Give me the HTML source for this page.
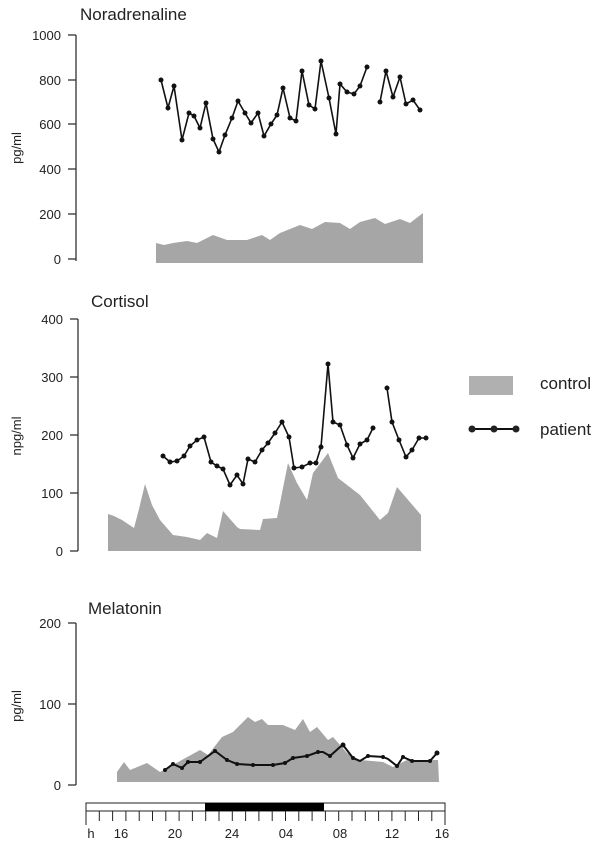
<!DOCTYPE html>
<html><head><meta charset="utf-8"><style>
html,body{margin:0;padding:0;background:#fff;}
svg{display:block;font-family:"Liberation Sans",Arial,sans-serif;}
</style></head><body>
<svg width="612" height="844" viewBox="0 0 612 844" xmlns="http://www.w3.org/2000/svg">
<g fill="#222" font-size="13">
<!-- Noradrenaline -->
<text x="80" y="20" font-size="17">Noradrenaline</text>
<g stroke="#333" stroke-width="1.3" fill="none">
<line x1="76" y1="35" x2="76" y2="261"/>
<line x1="68" y1="35" x2="76" y2="35"/><line x1="68" y1="80" x2="76" y2="80"/><line x1="68" y1="124" x2="76" y2="124"/><line x1="68" y1="169" x2="76" y2="169"/><line x1="68" y1="214" x2="76" y2="214"/><line x1="68" y1="259" x2="76" y2="259"/>
</g>
<g text-anchor="end"><text x="61" y="40">1000</text><text x="61" y="85">800</text><text x="61" y="129">600</text><text x="61" y="174">400</text><text x="61" y="219">200</text><text x="61" y="264">0</text></g>
<text transform="translate(21,148) rotate(-90)" text-anchor="middle">pg/ml</text>
<polygon fill="#a6a6a6" points="156,263 156,243 164,245 173,243 187,241 197,243 213,235 227,240 247,240 262,235 270,240 280,233 300,225 312,229 325,222 340,223 350,229 360,222 375,218 385,224 400,219 410,223 423,213 423,263"/>
<g stroke="#111" stroke-width="1.6" fill="none">
<polyline points="161,80 168,108 174,86 182,140 189,113 194,116 200,128 206,103 213,139 219,152 225,135 232,118 238,101 245,113 251,123 258,113 264,136 271,124 277,115 283,88 290,118 296,121 302,71 309,105 315,109 321,61 329,98 336,134 340,84 347,92 354,94 360,86 367,67"/>
<polyline points="380,102 386,71 393,97 400,77 406,104 413,100 420,110"/>
</g>
<g fill="#111">
<circle cx="161" cy="80" r="2.5"/><circle cx="168" cy="108" r="2.5"/><circle cx="174" cy="86" r="2.5"/><circle cx="182" cy="140" r="2.5"/><circle cx="189" cy="113" r="2.5"/><circle cx="194" cy="116" r="2.5"/><circle cx="200" cy="128" r="2.5"/><circle cx="206" cy="103" r="2.5"/><circle cx="213" cy="139" r="2.5"/><circle cx="219" cy="152" r="2.5"/><circle cx="225" cy="135" r="2.5"/><circle cx="232" cy="118" r="2.5"/><circle cx="238" cy="101" r="2.5"/><circle cx="245" cy="113" r="2.5"/><circle cx="251" cy="123" r="2.5"/><circle cx="258" cy="113" r="2.5"/><circle cx="264" cy="136" r="2.5"/><circle cx="271" cy="124" r="2.5"/><circle cx="277" cy="115" r="2.5"/><circle cx="283" cy="88" r="2.5"/><circle cx="290" cy="118" r="2.5"/><circle cx="296" cy="121" r="2.5"/><circle cx="302" cy="71" r="2.5"/><circle cx="309" cy="105" r="2.5"/><circle cx="315" cy="109" r="2.5"/><circle cx="321" cy="61" r="2.5"/><circle cx="329" cy="98" r="2.5"/><circle cx="336" cy="134" r="2.5"/><circle cx="340" cy="84" r="2.5"/><circle cx="347" cy="92" r="2.5"/><circle cx="354" cy="94" r="2.5"/><circle cx="360" cy="86" r="2.5"/><circle cx="367" cy="67" r="2.5"/><circle cx="380" cy="102" r="2.5"/><circle cx="386" cy="71" r="2.5"/><circle cx="393" cy="97" r="2.5"/><circle cx="400" cy="77" r="2.5"/><circle cx="406" cy="104" r="2.5"/><circle cx="413" cy="100" r="2.5"/><circle cx="420" cy="110" r="2.5"/>
</g>

<!-- Cortisol -->
<text x="91" y="307" font-size="17">Cortisol</text>
<g stroke="#333" stroke-width="1.3" fill="none">
<line x1="78" y1="319" x2="78" y2="551"/>
<line x1="70" y1="319" x2="78" y2="319"/><line x1="70" y1="377" x2="78" y2="377"/><line x1="70" y1="435" x2="78" y2="435"/><line x1="70" y1="493" x2="78" y2="493"/><line x1="70" y1="551" x2="78" y2="551"/>
</g>
<g text-anchor="end"><text x="63" y="324">400</text><text x="63" y="382">300</text><text x="63" y="440">200</text><text x="63" y="498">100</text><text x="63" y="556">0</text></g>
<text transform="translate(21,436) rotate(-90)" text-anchor="middle">npg/ml</text>
<polygon fill="#a6a6a6" points="108,551 108,514 114,516 122,520 128,524 134,528 139,509 145,484 152,505 160,520 173,535 187,537 200,540 207,533 217,538 223,511 237,527 240,529 260,530 263,519 277,518 288,463 297,483 307,500 313,473 328,453 338,478 360,495 380,520 388,513 397,487 421,515 421,551"/>
<g stroke="#111" stroke-width="1.6" fill="none">
<polyline points="163,456 170,462 177,461 184,456 190,446 197,440 204,437 211,462 217,466 223,469 230,485 237,475 243,484 248,459 255,462 262,450 268,443 275,433 282,422 289,437 294,468 302,467 310,463 316,463 321,447 328,364 333,422 340,425 347,445 353,458 360,444 367,440 373,428"/>
<polyline points="387,388 392,422 399,440 406,457 412,450 419,438 426,438"/>
</g>
<g fill="#111">
<circle cx="163" cy="456" r="2.5"/><circle cx="170" cy="462" r="2.5"/><circle cx="177" cy="461" r="2.5"/><circle cx="184" cy="456" r="2.5"/><circle cx="190" cy="446" r="2.5"/><circle cx="197" cy="440" r="2.5"/><circle cx="204" cy="437" r="2.5"/><circle cx="211" cy="462" r="2.5"/><circle cx="217" cy="466" r="2.5"/><circle cx="223" cy="469" r="2.5"/><circle cx="230" cy="485" r="2.5"/><circle cx="237" cy="475" r="2.5"/><circle cx="243" cy="484" r="2.5"/><circle cx="248" cy="459" r="2.5"/><circle cx="255" cy="462" r="2.5"/><circle cx="262" cy="450" r="2.5"/><circle cx="268" cy="443" r="2.5"/><circle cx="275" cy="433" r="2.5"/><circle cx="282" cy="422" r="2.5"/><circle cx="289" cy="437" r="2.5"/><circle cx="294" cy="468" r="2.5"/><circle cx="302" cy="467" r="2.5"/><circle cx="310" cy="463" r="2.5"/><circle cx="316" cy="463" r="2.5"/><circle cx="321" cy="447" r="2.5"/><circle cx="328" cy="364" r="2.5"/><circle cx="333" cy="422" r="2.5"/><circle cx="340" cy="425" r="2.5"/><circle cx="347" cy="445" r="2.5"/><circle cx="353" cy="458" r="2.5"/><circle cx="360" cy="444" r="2.5"/><circle cx="367" cy="440" r="2.5"/><circle cx="373" cy="428" r="2.5"/><circle cx="387" cy="388" r="2.5"/><circle cx="392" cy="422" r="2.5"/><circle cx="399" cy="440" r="2.5"/><circle cx="406" cy="457" r="2.5"/><circle cx="412" cy="450" r="2.5"/><circle cx="419" cy="438" r="2.5"/><circle cx="426" cy="438" r="2.5"/>
</g>

<!-- Legend -->
<rect x="469" y="376" width="44" height="19" fill="#b0b0b0"/>
<text x="540" y="389" font-size="17">control</text>
<line x1="472" y1="429" x2="516" y2="429" stroke="#111" stroke-width="2"/>
<circle cx="472" cy="429" r="3.5"/><circle cx="494" cy="429" r="3.5"/><circle cx="516" cy="429" r="3.5"/>
<text x="540" y="435" font-size="17">patient</text>

<!-- Melatonin -->
<text x="88" y="614" font-size="17">Melatonin</text>
<g stroke="#333" stroke-width="1.3" fill="none">
<line x1="76" y1="623" x2="76" y2="785"/>
<line x1="68" y1="623" x2="76" y2="623"/><line x1="68" y1="704" x2="76" y2="704"/><line x1="68" y1="785" x2="76" y2="785"/>
</g>
<g text-anchor="end"><text x="61" y="628">200</text><text x="61" y="709">100</text><text x="61" y="790">0</text></g>
<text transform="translate(21,706) rotate(-90)" text-anchor="middle">pg/ml</text>
<polygon fill="#a6a6a6" points="117,782 117,772 124,762 130,770 147,763 160,772 200,750 208,755 222,737 233,732 248,717 255,722 262,719 268,725 283,725 295,730 303,719 310,732 317,727 328,740 333,737 347,753 360,760 383,762 393,767 407,760 438,760 439,782"/>
<polyline fill="none" stroke="#111" stroke-width="2" points="165,770 173,764 182,768 188,762 200,762 215,751 227,760 237,764 253,765 273,765 285,763 293,758 307,756 318,752 323,752 330,756 340,747 343,745 353,758 360,761 368,756 383,757 388,759 397,766 403,757 412,761 430,761 437,753"/>
<g fill="#111">
<circle cx="165" cy="770" r="2"/><circle cx="173" cy="764" r="2"/><circle cx="182" cy="768" r="2"/><circle cx="188" cy="762" r="2"/><circle cx="200" cy="762" r="2"/><circle cx="215" cy="751" r="2"/><circle cx="227" cy="760" r="2"/><circle cx="237" cy="764" r="2"/><circle cx="253" cy="765" r="2"/><circle cx="273" cy="765" r="2"/><circle cx="285" cy="763" r="2"/><circle cx="293" cy="758" r="2"/><circle cx="307" cy="756" r="2"/><circle cx="318" cy="752" r="2"/><circle cx="330" cy="756" r="2"/><circle cx="343" cy="745" r="2.5"/><circle cx="353" cy="758" r="2"/><circle cx="368" cy="756" r="2"/><circle cx="383" cy="757" r="2"/><circle cx="397" cy="766" r="2"/><circle cx="403" cy="757" r="2"/><circle cx="412" cy="761" r="2"/><circle cx="430" cy="761" r="2"/><circle cx="437" cy="753" r="2.5"/>
</g>

<!-- time bar -->
<rect x="86" y="803" width="359" height="8" fill="#fff" stroke="#222" stroke-width="1"/>
<rect x="205" y="803" width="119" height="8" fill="#000"/>
<g stroke="#222" stroke-width="1">
<line x1="86" y1="811" x2="86" y2="825"/><line x1="99.3" y1="811" x2="99.3" y2="821"/><line x1="112.6" y1="811" x2="112.6" y2="821"/><line x1="125.9" y1="811" x2="125.9" y2="821"/><line x1="139.2" y1="811" x2="139.2" y2="821"/><line x1="152.5" y1="811" x2="152.5" y2="821"/><line x1="165.8" y1="811" x2="165.8" y2="821"/><line x1="179.1" y1="811" x2="179.1" y2="821"/><line x1="192.4" y1="811" x2="192.4" y2="821"/><line x1="205.7" y1="811" x2="205.7" y2="821"/><line x1="219" y1="811" x2="219" y2="821"/><line x1="232.3" y1="811" x2="232.3" y2="821"/><line x1="245.6" y1="811" x2="245.6" y2="821"/><line x1="258.9" y1="811" x2="258.9" y2="821"/><line x1="272.2" y1="811" x2="272.2" y2="821"/><line x1="285.5" y1="811" x2="285.5" y2="821"/><line x1="298.8" y1="811" x2="298.8" y2="821"/><line x1="312.1" y1="811" x2="312.1" y2="821"/><line x1="325.4" y1="811" x2="325.4" y2="821"/><line x1="338.7" y1="811" x2="338.7" y2="821"/><line x1="352" y1="811" x2="352" y2="821"/><line x1="365.3" y1="811" x2="365.3" y2="821"/><line x1="378.6" y1="811" x2="378.6" y2="821"/><line x1="391.9" y1="811" x2="391.9" y2="821"/><line x1="405.2" y1="811" x2="405.2" y2="821"/><line x1="418.5" y1="811" x2="418.5" y2="821"/><line x1="431.8" y1="811" x2="431.8" y2="821"/><line x1="445" y1="811" x2="445" y2="825"/>
</g>
<g text-anchor="middle" font-size="13">
<text x="91" y="838">h</text><text x="121" y="838">16</text><text x="175" y="838">20</text><text x="232" y="838">24</text><text x="286" y="838">04</text><text x="340" y="838">08</text><text x="392" y="838">12</text><text x="442" y="838">16</text>
</g>
</g>
</svg>
</body></html>
